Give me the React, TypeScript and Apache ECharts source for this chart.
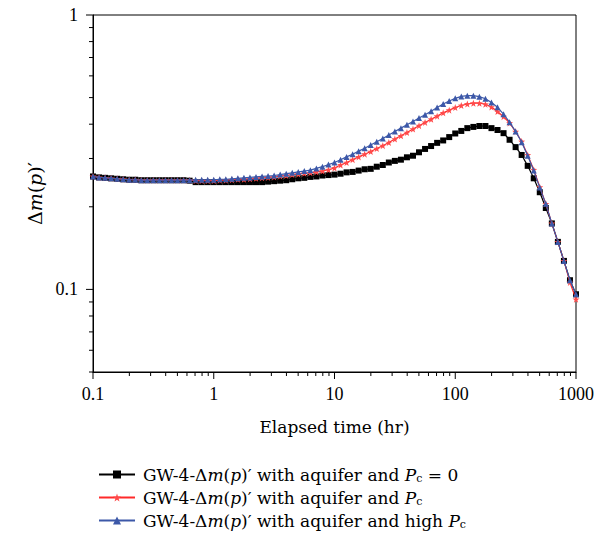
import React, { useEffect, useRef } from 'react';
import * as echarts from 'echarts';

const times = [
  0.1, 0.1122, 0.1259, 0.1413, 0.1585, 0.1778, 0.1995, 0.2239, 0.2512, 0.2818,
  0.3162, 0.3548, 0.3981, 0.4467, 0.5012, 0.5623, 0.631, 0.7079, 0.7943, 0.8913,
  1, 1.122, 1.259, 1.413, 1.585, 1.778, 1.995, 2.239, 2.512, 2.818,
  3.162, 3.548, 3.981, 4.467, 5.012, 5.623, 6.31, 7.079, 7.943, 8.913,
  10, 11.22, 12.59, 14.13, 15.85, 17.78, 19.95, 22.39, 25.12, 28.18,
  31.62, 35.48, 39.81, 44.67, 50.12, 56.23, 63.1, 70.79, 79.43, 89.13,
  100, 112.2, 125.9, 141.3, 158.5, 177.8, 199.5, 223.9, 251.2, 281.8,
  316.2, 354.8, 398.1, 446.7, 501.2, 562.3, 631, 707.9, 794.3, 891.3, 1000,
];

const seriesNoPc = [
  0.258, 0.256, 0.255, 0.254, 0.253, 0.252, 0.251, 0.251, 0.25, 0.25,
  0.25, 0.25, 0.25, 0.25, 0.25, 0.25, 0.249, 0.246, 0.246, 0.246,
  0.246, 0.246, 0.246, 0.246, 0.246, 0.246, 0.246, 0.246, 0.246, 0.247,
  0.248, 0.249, 0.25, 0.252, 0.254, 0.255, 0.257, 0.258, 0.26, 0.261,
  0.262, 0.264, 0.267, 0.268, 0.271, 0.274, 0.275, 0.28, 0.284, 0.29,
  0.294, 0.297, 0.303, 0.307, 0.316, 0.325, 0.333, 0.342, 0.349, 0.359,
  0.37, 0.378, 0.387, 0.391, 0.394, 0.394, 0.387, 0.381, 0.371, 0.351,
  0.33, 0.309, 0.282, 0.254, 0.226, 0.198, 0.174, 0.149, 0.127, 0.108, 0.096,
];

const seriesPc = [
  0.258, 0.256, 0.255, 0.254, 0.253, 0.252, 0.251, 0.251, 0.25, 0.25,
  0.25, 0.25, 0.25, 0.25, 0.25, 0.25, 0.25, 0.249, 0.249, 0.249,
  0.249, 0.25, 0.25, 0.251, 0.252, 0.252, 0.253, 0.254, 0.255, 0.256,
  0.257, 0.259, 0.26, 0.262, 0.263, 0.265, 0.266, 0.268, 0.27, 0.273,
  0.277, 0.284, 0.29, 0.297, 0.304, 0.311, 0.318, 0.326, 0.334, 0.343,
  0.353, 0.363, 0.373, 0.384, 0.395, 0.406, 0.417, 0.428, 0.44, 0.45,
  0.46, 0.468, 0.474, 0.477, 0.477, 0.473, 0.462, 0.445, 0.426, 0.404,
  0.376, 0.346, 0.309, 0.273, 0.236, 0.205, 0.174, 0.149, 0.127, 0.106, 0.092,
];

const seriesHighPc = [
  0.258, 0.256, 0.255, 0.254, 0.253, 0.252, 0.251, 0.251, 0.25, 0.25,
  0.25, 0.25, 0.25, 0.25, 0.25, 0.25, 0.25, 0.251, 0.251, 0.251,
  0.251, 0.252, 0.252, 0.253, 0.254, 0.255, 0.256, 0.257, 0.258, 0.259,
  0.26, 0.262, 0.264, 0.266, 0.268, 0.27, 0.272, 0.276, 0.28, 0.285,
  0.29, 0.297, 0.304, 0.311, 0.319, 0.327, 0.336, 0.345, 0.355, 0.365,
  0.376, 0.387, 0.398, 0.409, 0.421, 0.433, 0.446, 0.46, 0.474, 0.486,
  0.497, 0.505, 0.508, 0.508, 0.504, 0.495, 0.48, 0.461, 0.435, 0.407,
  0.376, 0.344, 0.307, 0.271, 0.235, 0.205, 0.174, 0.149, 0.127, 0.108, 0.096,
];

const seriesNames = ['aqPc0', 'aqPc', 'aqHighPc'];
const legendLabels = [
  'GW-4-Δ{i|m}({i|p})′ with aquifer and {i|P}{s|c} = 0',
  'GW-4-Δ{i|m}({i|p})′ with aquifer and {i|P}{s|c}',
  'GW-4-Δ{i|m}({i|p})′ with aquifer and high {i|P}{s|c}',
];

const xTickValues = [0.1, 1, 10, 100, 1000];
const xTickLabels = ['0.1', '1', '10', '100', '1000'];
const yTickValues = [0.1, 1];
const yTickLabels = ['0.1', '1'];
const xMinorTicks = [
  0.2, 0.3, 0.4, 0.5, 0.6, 0.7, 0.8, 0.9,
  2, 3, 4, 5, 6, 7, 8, 9,
  20, 30, 40, 50, 60, 70, 80, 90,
  200, 300, 400, 500, 600, 700, 800, 900,
];
const yMinorTicks = [0.05, 0.06, 0.07, 0.08, 0.09, 0.2, 0.3, 0.4, 0.5, 0.6, 0.7, 0.8, 0.9];

const X_MIN = 0.1;
const X_MAX = 1000;
const Y_MIN = 0.05;
const Y_MAX = 1;

const NUM_FONT = '"Liberation Serif", "Times New Roman", serif';
const TEXT_FONT = '"DejaVu Serif", "Liberation Serif", serif';

function labelFor(v: number, vals: number[], labels: string[]) {
  for (let k = 0; k < vals.length; k++) {
    if (Math.abs(Math.log10(v) - Math.log10(vals[k])) < 1e-6) return labels[k];
  }
  return '';
}

function tickSeries(name: string, data: number[][], axis: 'x' | 'y', len: number) {
  return {
    name,
    type: 'custom',
    silent: true,
    clip: false,
    z: 10,
    data,
    renderItem: (_params: any, api: any) => {
      const p = api.coord([api.value(0), api.value(1)]);
      const shape =
        axis === 'x'
          ? { x1: p[0], y1: p[1], x2: p[0], y2: p[1] + len }
          : { x1: p[0] - len, y1: p[1], x2: p[0], y2: p[1] };
      return { type: 'line', shape, style: { stroke: '#000', lineWidth: 1 } };
    },
  };
}

const starPath =
  'path://M0,-10L2.35,-3.24L9.51,-3.09L3.8,1.24L5.88,8.09L0,4L-5.88,8.09L-3.8,1.24L-9.51,-3.09L-2.35,-3.24Z';

export default function App() {
  const ref = useRef<HTMLDivElement>(null);
  useEffect(() => {
    document.body.style.margin = '0';
    if (!ref.current) return;
    const chart = echarts.init(ref.current, null, { renderer: 'svg' });
    const mk = (arr: number[]) => times.map((t, i) => [t, arr[i]]);
    const legendRich = {
      i: { fontStyle: 'italic', fontFamily: TEXT_FONT, fontSize: 17, color: '#000' },
      s: { fontFamily: TEXT_FONT, fontSize: 11, color: '#000', padding: [8, 0, 0, 0] },
    };
    const nameRich = {
      i: { fontStyle: 'italic', fontFamily: TEXT_FONT, fontSize: 19, color: '#000' },
    };
    chart.setOption({
      animation: false,
      backgroundColor: '#fff',
      grid: {
        left: 93,
        right: 30,
        top: 15,
        bottom: 165,
        show: true,
        borderColor: '#000',
        borderWidth: 1,
        backgroundColor: 'transparent',
      },
      xAxis: {
        type: 'log',
        min: X_MIN,
        max: X_MAX,
        logBase: 10,
        name: 'Elapsed time (hr)',
        nameLocation: 'middle',
        nameGap: 46,
        nameTextStyle: { fontFamily: TEXT_FONT, fontSize: 17, color: '#000' },
        axisLine: { show: true, lineStyle: { color: '#000', width: 1 } },
        axisTick: { show: false },
        splitLine: { show: false },
        axisLabel: {
          fontFamily: NUM_FONT,
          fontSize: 18,
          color: '#000',
          margin: 13,
          showMinLabel: true,
          showMaxLabel: true,
          formatter: (v: number) => labelFor(v, xTickValues, xTickLabels),
        },
      },
      yAxis: {
        type: 'log',
        min: Y_MIN,
        max: Y_MAX,
        logBase: 10,
        name: 'Δ{i|m}({i|p})′',
        nameLocation: 'middle',
        nameGap: 44,
        nameRotate: 90,
        nameTextStyle: { fontFamily: TEXT_FONT, fontSize: 19, color: '#000', rich: nameRich },
        axisLine: { show: true, lineStyle: { color: '#000', width: 1 } },
        axisTick: { show: false },
        splitLine: { show: false },
        axisLabel: {
          fontFamily: NUM_FONT,
          fontSize: 18,
          color: '#000',
          margin: 15,
          showMinLabel: true,
          showMaxLabel: true,
          formatter: (v: number) => labelFor(v, yTickValues, yTickLabels),
        },
      },
      legend: seriesNames.map((n, k) => ({
        orient: 'horizontal',
        left: 93,
        top: 461 + k * 23,
        itemWidth: 36,
        itemHeight: 10,
        data: [n],
        selectedMode: false,
        formatter: () => legendLabels[k],
        textStyle: {
          fontFamily: TEXT_FONT,
          fontSize: 17,
          color: '#000',
          padding: [0, 0, 0, 3],
          rich: legendRich,
        },
      })),
      series: [
        {
          name: seriesNames[0],
          type: 'line',
          data: mk(seriesNoPc),
          symbol: 'rect',
          symbolSize: 6,
          lineStyle: { color: '#000', width: 1.2 },
          itemStyle: { color: '#000' },
          z: 3,
        },
        {
          name: seriesNames[1],
          type: 'line',
          data: mk(seriesPc),
          symbol: starPath,
          symbolSize: 7,
          lineStyle: { color: '#ff2a2a', width: 1.2 },
          itemStyle: { color: '#ff4a4a' },
          z: 4,
        },
        {
          name: seriesNames[2],
          type: 'line',
          data: mk(seriesHighPc),
          symbol: 'triangle',
          symbolSize: 6,
          lineStyle: { color: '#3c58a8', width: 1.2 },
          itemStyle: { color: '#3c58a8' },
          z: 5,
        },
        tickSeries('xMajor', xTickValues.map((v) => [v, Y_MIN]), 'x', 7),
        tickSeries('xMinor', xMinorTicks.map((v) => [v, Y_MIN]), 'x', 4),
        tickSeries('yMajor', yTickValues.map((v) => [X_MIN, v]), 'y', 7),
        tickSeries('yMinor', yMinorTicks.map((v) => [X_MIN, v]), 'y', 4),
      ],
    });
    return () => chart.dispose();
  }, []);
  return <div ref={ref} style={{ width: 606, height: 537 }} />;
}
